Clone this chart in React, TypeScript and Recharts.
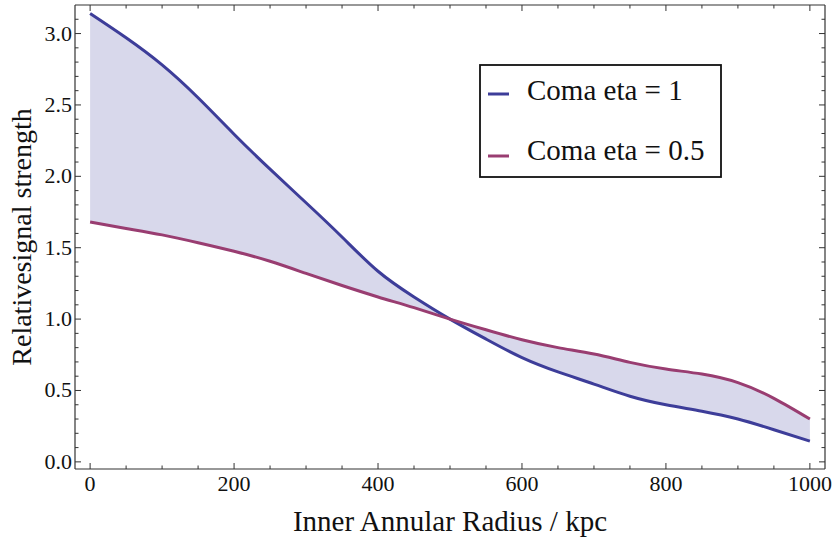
import {
  ComposedChart,
  Area,
  Line,
  XAxis,
  YAxis,
  Legend,
  Label,
} from 'recharts';

const radius = [0, 50, 100, 150, 200, 250, 300, 350, 400, 450, 500, 550, 600, 650, 700, 750, 800, 850, 900, 950, 1000];
const etaOne = [3.14, 2.97, 2.78, 2.55, 2.295, 2.05, 1.815, 1.575, 1.335, 1.155, 1.0, 0.86, 0.73, 0.63, 0.545, 0.46, 0.4, 0.355, 0.3, 0.225, 0.145];
const etaHalf = [1.68, 1.635, 1.59, 1.535, 1.475, 1.405, 1.32, 1.235, 1.155, 1.08, 1.0, 0.925, 0.855, 0.8, 0.755, 0.697, 0.65, 0.615, 0.555, 0.445, 0.3];

const xTicks = [0, 50, 100, 150, 200, 250, 300, 350, 400, 450, 500, 550, 600, 650, 700, 750, 800, 850, 900, 950, 1000];
const yTicks = [0, 0.1, 0.2, 0.3, 0.4, 0.5, 0.6, 0.7, 0.8, 0.9, 1.0, 1.1, 1.2, 1.3, 1.4, 1.5, 1.6, 1.7, 1.8, 1.9, 2.0, 2.1, 2.2, 2.3, 2.4, 2.5, 2.6, 2.7, 2.8, 2.9, 3.0, 3.1];

const seriesNames = ['Coma eta = 1', 'Coma eta = 0.5'];
const BLUE = '#3d3d99';
const PURPLE = '#993d71';
const FILL = '#d8d8eb';
const FRAME = '#333';
const FONT = '"Liberation Serif", "Times New Roman", serif';

const data = radius.map((r, i) => ({
  r,
  eta1: etaOne[i],
  eta05: etaHalf[i],
  band: [Math.min(etaOne[i], etaHalf[i]), Math.max(etaOne[i], etaHalf[i])],
}));

const isMajorX = (v: number) => v % 200 === 0;
const isMajorY = (v: number) => Math.abs(v * 2 - Math.round(v * 2)) < 1e-6;

function BottomTick({ x, y, payload }: any) {
  const major = isMajorX(payload.value);
  return (
    <g>
      <line x1={x} y1={y} x2={x} y2={y - (major ? 6 : 3.5)} stroke={FRAME} strokeWidth={1} />
      {major && (
        <text x={x} y={y + 22} textAnchor="middle" fontSize={22} style={{ fontFamily: FONT }} fill="#111">
          {payload.value}
        </text>
      )}
    </g>
  );
}

function TopTick({ x, y, payload }: any) {
  const major = isMajorX(payload.value);
  return <line x1={x} y1={y} x2={x} y2={y + (major ? 6 : 3.5)} stroke={FRAME} strokeWidth={1} />;
}

function LeftTick({ x, y, payload }: any) {
  const major = isMajorY(payload.value);
  return (
    <g>
      <line x1={x} y1={y} x2={x + (major ? 6 : 3.5)} y2={y} stroke={FRAME} strokeWidth={1} />
      {major && (
        <text x={x - 3} y={y + 7} textAnchor="end" fontSize={22} style={{ fontFamily: FONT }} fill="#111">
          {payload.value.toFixed(1)}
        </text>
      )}
    </g>
  );
}

function RightTick({ x, y, payload }: any) {
  const major = isMajorY(payload.value);
  return <line x1={x} y1={y} x2={x - (major ? 6 : 3.5)} y2={y} stroke={FRAME} strokeWidth={1} />;
}

function LegendBox() {
  const colors = [BLUE, PURPLE];
  return (
    <svg width={243} height={114} style={{ display: 'block' }}>
      <rect x={1} y={1} width={241} height={112} fill="#fff" stroke="#111" strokeWidth={1.8} />
      {seriesNames.map((name, i) => (
        <g key={name}>
          <line x1={9} x2={30} y1={30 + i * 62} y2={30 + i * 62} stroke={colors[i]} strokeWidth={3} />
          <text x={48} y={36 + i * 60} fontSize={29} style={{ fontFamily: FONT }} fill="#111">
            {name}
          </text>
        </g>
      ))}
    </svg>
  );
}

export default function App() {
  return (
    <div style={{ position: 'absolute', left: 0, top: 0, background: '#fff' }}>
      <ComposedChart width={835} height={540} data={data} margin={{ top: 0, right: 0, bottom: 0, left: 0 }}>
        <XAxis
          dataKey="r"
          type="number"
          domain={[-21, 1021]}
          ticks={xTicks}
          interval={0}
          tickSize={0}
          tickMargin={0}
          tickLine={false}
          axisLine={{ stroke: FRAME, strokeWidth: 1.2 }}
          tick={<BottomTick />}
          height={71}
          allowDataOverflow
        >
          <Label
            content={({ viewBox }: any) => (
              <text
                x={viewBox.x + viewBox.width / 2}
                y={viewBox.y + 62}
                textAnchor="middle"
                fontSize={29}
                style={{ fontFamily: FONT }}
                fill="#111"
              >
                Inner Annular Radius / kpc
              </text>
            )}
          />
        </XAxis>
        <XAxis
          xAxisId="top"
          orientation="top"
          dataKey="r"
          type="number"
          domain={[-21, 1021]}
          ticks={xTicks}
          interval={0}
          tickSize={0}
          tickMargin={0}
          tickLine={false}
          axisLine={{ stroke: FRAME, strokeWidth: 1.2 }}
          tick={<TopTick />}
          height={5}
          allowDataOverflow
        />
        <YAxis
          type="number"
          domain={[-0.05, 3.2]}
          ticks={yTicks}
          interval={0}
          tickSize={0}
          tickMargin={0}
          tickLine={false}
          axisLine={{ stroke: FRAME, strokeWidth: 1.2 }}
          tick={<LeftTick />}
          width={75}
          allowDataOverflow
        >
          <Label
            content={({ viewBox }: any) => {
              const cx = viewBox.x + 31;
              const cy = viewBox.y + viewBox.height / 2;
              return (
                <text
                  x={cx}
                  y={cy}
                  transform={`rotate(-90 ${cx} ${cy})`}
                  textAnchor="middle"
                  fontSize={28}
                  style={{ fontFamily: FONT }}
                  fill="#111"
                >
                  Relativesignal strength
                </text>
              );
            }}
          />
        </YAxis>
        <YAxis
          yAxisId="right"
          orientation="right"
          type="number"
          domain={[-0.05, 3.2]}
          ticks={yTicks}
          interval={0}
          tickSize={0}
          tickMargin={0}
          tickLine={false}
          axisLine={{ stroke: FRAME, strokeWidth: 1.2 }}
          tick={<RightTick />}
          width={10}
          allowDataOverflow
        />
        <Area
          type="natural"
          dataKey="band"
          stroke="none"
          fill={FILL}
          fillOpacity={1}
          isAnimationActive={false}
          legendType="none"
        />
        <Line
          type="natural"
          dataKey="eta1"
          name={seriesNames[0]}
          stroke={BLUE}
          strokeWidth={3}
          dot={false}
          isAnimationActive={false}
        />
        <Line
          type="natural"
          dataKey="eta05"
          name={seriesNames[1]}
          stroke={PURPLE}
          strokeWidth={3}
          dot={false}
          isAnimationActive={false}
        />
        <Legend
          layout="vertical"
          align="center"
          verticalAlign="middle"
          content={() => <LegendBox />}
          wrapperStyle={{ position: 'absolute', left: 479, top: 64, width: 243, height: 114 }}
        />
      </ComposedChart>
    </div>
  );
}
